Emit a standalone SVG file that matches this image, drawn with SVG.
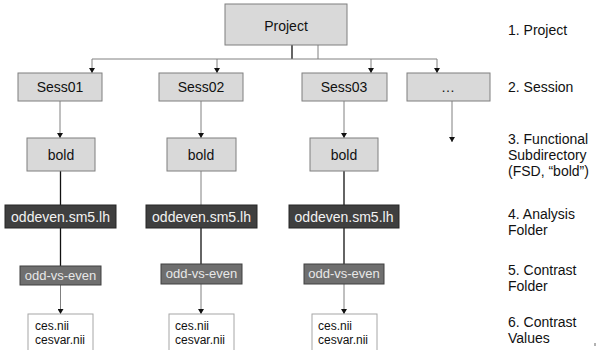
<svg xmlns="http://www.w3.org/2000/svg" width="597" height="350" viewBox="0 0 597 350">
  <style>
    .lt { fill: #d9d9d9; stroke: #7f7f7f; stroke-width: 1; }
    .dk { fill: #3f3f3f; stroke: #262626; stroke-width: 1; }
    .md { fill: #6f6f6f; stroke: #404040; stroke-width: 1; }
    .wh { fill: #ffffff; stroke: #a6a6a6; stroke-width: 1; }
    text { font-family: "Liberation Sans", Arial, sans-serif; }
    .t14 { font-size: 14px; fill: #111; text-anchor: middle; }
    .tdk { font-size: 14px; fill: #f2f2f2; text-anchor: middle; }
    .tmd { font-size: 13px; fill: #e8e8e8; text-anchor: middle; }
    .tf { font-size: 12px; fill: #111; }
    .lbl { font-size: 14px; fill: #111; }
    .g { stroke: #808080; stroke-width: 1; fill: none; }
    .b { stroke: #111; stroke-width: 1.3; fill: none; }
  </style>
  <defs>
    <marker id="ah" markerWidth="6" markerHeight="6" refX="5" refY="3" orient="auto" markerUnits="userSpaceOnUse">
      <path d="M0,0 L5,3 L0,6 z" fill="#111"/>
    </marker>
  </defs>

  <rect width="597" height="350" fill="#ffffff"/>

  <!-- connectors -->
  <g id="connectors">
    <line class="b" x1="292" y1="45" x2="292" y2="59" stroke-width="2"/>
    <line class="g" x1="318" y1="45" x2="318" y2="59"/>
    <line class="g" x1="92" y1="59" x2="437" y2="59"/>
    <line class="g" x1="92" y1="59" x2="92" y2="73" marker-end="url(#ah)"/>
    <line class="g" x1="217" y1="59" x2="217" y2="73" marker-end="url(#ah)"/>
    <line class="g" x1="371" y1="59" x2="371" y2="73" marker-end="url(#ah)"/>
    <line class="g" x1="437" y1="59" x2="437" y2="73" marker-end="url(#ah)"/>

    <line class="g" x1="60" y1="101" x2="60" y2="138" marker-end="url(#ah)"/>
    <line class="g" x1="201" y1="101" x2="201" y2="138" marker-end="url(#ah)"/>
    <line class="g" x1="344" y1="101" x2="344" y2="138" marker-end="url(#ah)"/>
    <line class="g" x1="452" y1="101" x2="452" y2="142" marker-end="url(#ah)"/>

    <line class="b" x1="60.5" y1="171" x2="60.5" y2="205"/>
    <line class="g" x1="201" y1="171" x2="201" y2="205"/>
    <line class="b" x1="344" y1="171" x2="344" y2="205"/>

    <line class="b" x1="60.5" y1="228" x2="60.5" y2="266"/>
    <line class="b" x1="201" y1="228" x2="201" y2="264"/>
    <line class="b" x1="344" y1="228" x2="344" y2="264"/>

    <line class="g" x1="60.5" y1="285" x2="60.5" y2="314" marker-end="url(#ah)"/>
    <line class="g" x1="201" y1="284" x2="201" y2="314" marker-end="url(#ah)"/>
    <line class="g" x1="344" y1="284" x2="344" y2="314" marker-end="url(#ah)"/>
  </g>

  <!-- level 1 -->
  <g id="project">
    <rect class="lt" x="225" y="4" width="122" height="41"/>
    <text class="t14" x="286" y="31">Project</text>
  </g>

  <!-- level 2: sessions -->
  <g id="sess01">
    <rect class="lt" x="18" y="73" width="84" height="28"/>
    <text class="t14" x="60" y="92">Sess01</text>
  </g>
  <g id="sess02">
    <rect class="lt" x="159" y="73" width="84" height="28"/>
    <text class="t14" x="201" y="92">Sess02</text>
  </g>
  <g id="sess03">
    <rect class="lt" x="302" y="73" width="85" height="28"/>
    <text class="t14" x="344" y="92">Sess03</text>
  </g>
  <g id="sess-more">
    <rect class="lt" x="407" y="73" width="83" height="28"/>
    <text class="t14" x="448" y="92">…</text>
  </g>

  <!-- level 3: functional subdirectory -->
  <g id="bold1">
    <rect class="lt" x="27" y="138" width="68" height="33"/>
    <text class="t14" x="61" y="160">bold</text>
  </g>
  <g id="bold2">
    <rect class="lt" x="167" y="138" width="69" height="33"/>
    <text class="t14" x="201" y="160">bold</text>
  </g>
  <g id="bold3">
    <rect class="lt" x="310" y="138" width="68" height="33"/>
    <text class="t14" x="344" y="160">bold</text>
  </g>

  <!-- level 4: analysis folder -->
  <g id="ana1">
    <rect class="dk" x="5" y="205" width="111" height="23"/>
    <text class="tdk" x="60.5" y="222">oddeven.sm5.lh</text>
  </g>
  <g id="ana2">
    <rect class="dk" x="146" y="205" width="111" height="23"/>
    <text class="tdk" x="201.5" y="222">oddeven.sm5.lh</text>
  </g>
  <g id="ana3">
    <rect class="dk" x="289" y="205" width="110" height="23"/>
    <text class="tdk" x="344" y="222">oddeven.sm5.lh</text>
  </g>

  <!-- level 5: contrast folder -->
  <g id="con1">
    <rect class="md" x="20" y="266" width="81" height="19"/>
    <text class="tmd" x="60.5" y="280">odd-vs-even</text>
  </g>
  <g id="con2">
    <rect class="md" x="161" y="264" width="81" height="20"/>
    <text class="tmd" x="201.5" y="278">odd-vs-even</text>
  </g>
  <g id="con3">
    <rect class="md" x="304" y="264" width="80" height="20"/>
    <text class="tmd" x="344" y="278">odd-vs-even</text>
  </g>

  <!-- level 6: contrast values -->
  <g id="val1">
    <rect class="wh" x="28" y="314" width="65" height="40"/>
    <text class="tf" x="35" y="330">ces.nii</text>
    <text class="tf" x="35" y="344">cesvar.nii</text>
  </g>
  <g id="val2">
    <rect class="wh" x="169" y="314" width="65" height="40"/>
    <text class="tf" x="175" y="330">ces.nii</text>
    <text class="tf" x="175" y="344">cesvar.nii</text>
  </g>
  <g id="val3">
    <rect class="wh" x="312" y="314" width="65" height="40"/>
    <text class="tf" x="318" y="330">ces.nii</text>
    <text class="tf" x="318" y="344">cesvar.nii</text>
  </g>

  <!-- level legend -->
  <g id="legend">
    <text class="lbl" x="508" y="35">1. Project</text>
    <text class="lbl" x="508" y="92">2. Session</text>
    <text class="lbl" x="508" y="144">3. Functional</text>
    <text class="lbl" x="508" y="160">Subdirectory</text>
    <text class="lbl" x="508" y="176">(FSD, “bold”)</text>
    <text class="lbl" x="508" y="219">4. Analysis</text>
    <text class="lbl" x="508" y="235">Folder</text>
    <text class="lbl" x="508" y="275">5. Contrast</text>
    <text class="lbl" x="508" y="291">Folder</text>
    <text class="lbl" x="508" y="327">6. Contrast</text>
    <text class="lbl" x="508" y="343">Values</text>
  </g>
  <line x1="595" y1="343" x2="595" y2="346" stroke="#666" stroke-width="1"/>
</svg>
